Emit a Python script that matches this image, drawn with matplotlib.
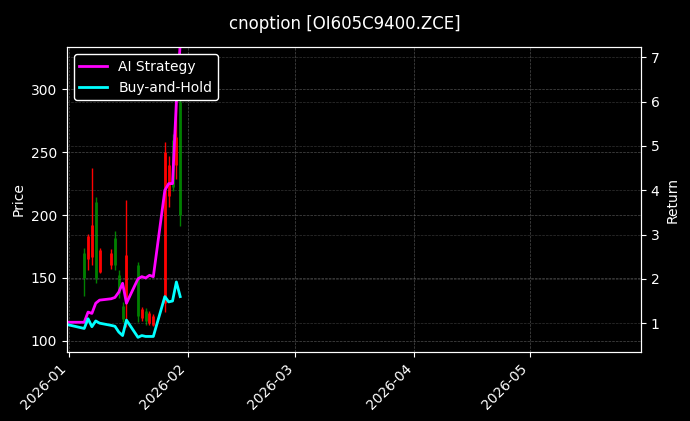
import matplotlib
matplotlib.use("Agg")
import matplotlib.pyplot as plt
import matplotlib.dates as mdates
import pandas as pd

plt.style.use("dark_background")

candle_dates = ["2026-01-05","2026-01-06","2026-01-07","2026-01-08","2026-01-09","2026-01-12",
                "2026-01-13","2026-01-14","2026-01-15","2026-01-16","2026-01-19","2026-01-20",
                "2026-01-21","2026-01-22","2026-01-23","2026-01-26","2026-01-27","2026-01-28",
                "2026-01-29","2026-01-30"]
opens  = [150, 183, 192, 150, 172, 170, 160, 138, 117, 168, 120, 125, 116, 122, 120, 250, 240, 222, 262, 200]
highs  = [174, 185, 237, 214, 174, 173, 187, 156, 131, 212, 163, 127, 126, 124, 121, 258, 247, 264, 325, 297]
lows   = [136, 156, 160, 146, 154, 157, 156, 134, 115, 111, 115, 116, 113, 113, 112, 123, 206, 219, 229, 191]
closes = [170, 165, 167, 210, 155, 160, 182, 152, 128, 130, 160, 118, 124, 114, 113, 130, 215, 260, 240, 290]

line_dates = ["2025-12-31"] + candle_dates
ai_return = [1.02, 1.02, 1.25, 1.22, 1.45, 1.52, 1.55, 1.58, 1.7, 1.9, 1.45, 2.0, 2.05, 2.02, 2.08, 2.05,
             4.0, 4.15, 4.15, 6.0, 7.3]
bh_return = [0.98, 0.88, 1.1, 0.92, 1.05, 1.0, 0.95, 0.93, 0.8, 0.72, 1.07, 0.68, 0.72, 0.7, 0.7, 0.7,
             1.6, 1.48, 1.5, 1.93, 1.6]

cd = pd.to_datetime(candle_dates)
ld = pd.to_datetime(line_dates)

fig = plt.figure(figsize=(6.9, 4.21), dpi=100)
ax = fig.add_axes([0.097, 0.164, 0.832, 0.724])
ax2 = ax.twinx()

for d, o, h, l, c in zip(cd, opens, highs, lows, closes):
    col = "green" if c >= o else "red"
    ax.vlines(d, l, h, color=col, linewidth=1)
    ax.vlines(d, min(o, c), max(o, c), color=col, linewidth=2)

ax2.plot(ld, ai_return, color="#ff00ff", linewidth=2, label="AI Strategy")
ax2.plot(ld, bh_return, color="#00ffff", linewidth=2, label="Buy-and-Hold")

ax.set_ylim(91.2, 333.4)
ax2.set_ylim(0.35, 7.23)
ax.set_xlim(pd.Timestamp("2025-12-31 12:00"), pd.Timestamp("2026-05-30"))
ax.xaxis.set_major_locator(mdates.MonthLocator())
ax.xaxis.set_major_formatter(mdates.DateFormatter("%Y-%m"))
plt.setp(ax.get_xticklabels(), rotation=45, ha="right")
ax.set_ylabel("Price")
ax2.set_ylabel("Return")
ax.grid(True, linestyle="--", linewidth=0.5, color="gray", alpha=0.6)
ax2.grid(True, linestyle="--", linewidth=0.5, color="gray", alpha=0.4)
ax2.legend(loc="upper left", facecolor="black", edgecolor="white", framealpha=1)
fig.suptitle("cnoption [OI605C9400.ZCE]", y=0.965, fontsize=12)
fig.savefig("out.png", dpi=100)
